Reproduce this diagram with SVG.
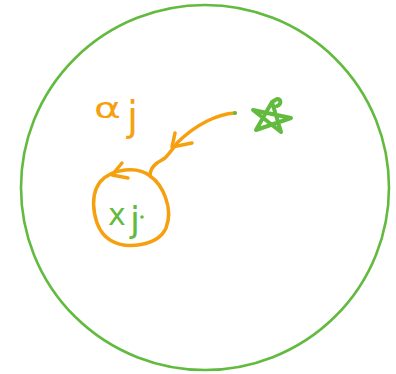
<svg xmlns="http://www.w3.org/2000/svg" width="396" height="374" viewBox="0 0 396 374">
<style>
.g{fill:none;stroke:#62bb3f;stroke-width:4;stroke-linecap:round;stroke-linejoin:round}
.b{fill:none;stroke:#62bb3f;stroke-width:2.6}
.o{fill:none;stroke:#f7a00f;stroke-width:3.5;stroke-linecap:round;stroke-linejoin:round}
.to{fill:#f7a00f;font-family:"DejaVu Sans",sans-serif}
.tg{fill:#62bb3f;font-family:"DejaVu Sans",sans-serif}
</style>
<rect width="396" height="374" fill="#fff"/>
<g id="boundary">
<ellipse class="b" cx="205" cy="187.5" rx="184" ry="182.5"/>
</g>
<g id="star">
<path class="g" d="M277,106 C282,104 281,99 277,99 C275,100 274,101 272,102 L256,130 L291,118 L253,110 L281,132 L272,102"/>
</g>
<g id="alpha">
<text class="to" x="94" y="118" font-size="28" textLength="27" lengthAdjust="spacingAndGlyphs">α</text>
<text class="to" x="127" y="130" font-size="40">j</text>
</g>
<g id="node-x">
<path class="o" d="M150,176 C138,166 112,168 100,182 C88,198 94,230 110,240 C126,250 158,246 166,228 C174,208 162,184 150,176"/>
<text class="tg" x="108" y="225" font-size="30">x</text>
<text class="tg" x="130" y="232" font-size="36">j</text>
<circle cx="142" cy="217" r="1.8" fill="#62bb3f"/>
</g>
<g id="connectors">
<path class="o" d="M235,113 C218,114 196,124 177,143 C172,150 168,155 165,158 C162,160 160,161 157,163 C153,166 150,170 150,176"/>
<circle cx="235" cy="113" r="2" fill="#62bb3f"/>
<path class="o" d="M175,133 L172,147 L192,143"/>
<path class="o" d="M122,163 L112,175 L128,178"/>
</g>
</svg>
